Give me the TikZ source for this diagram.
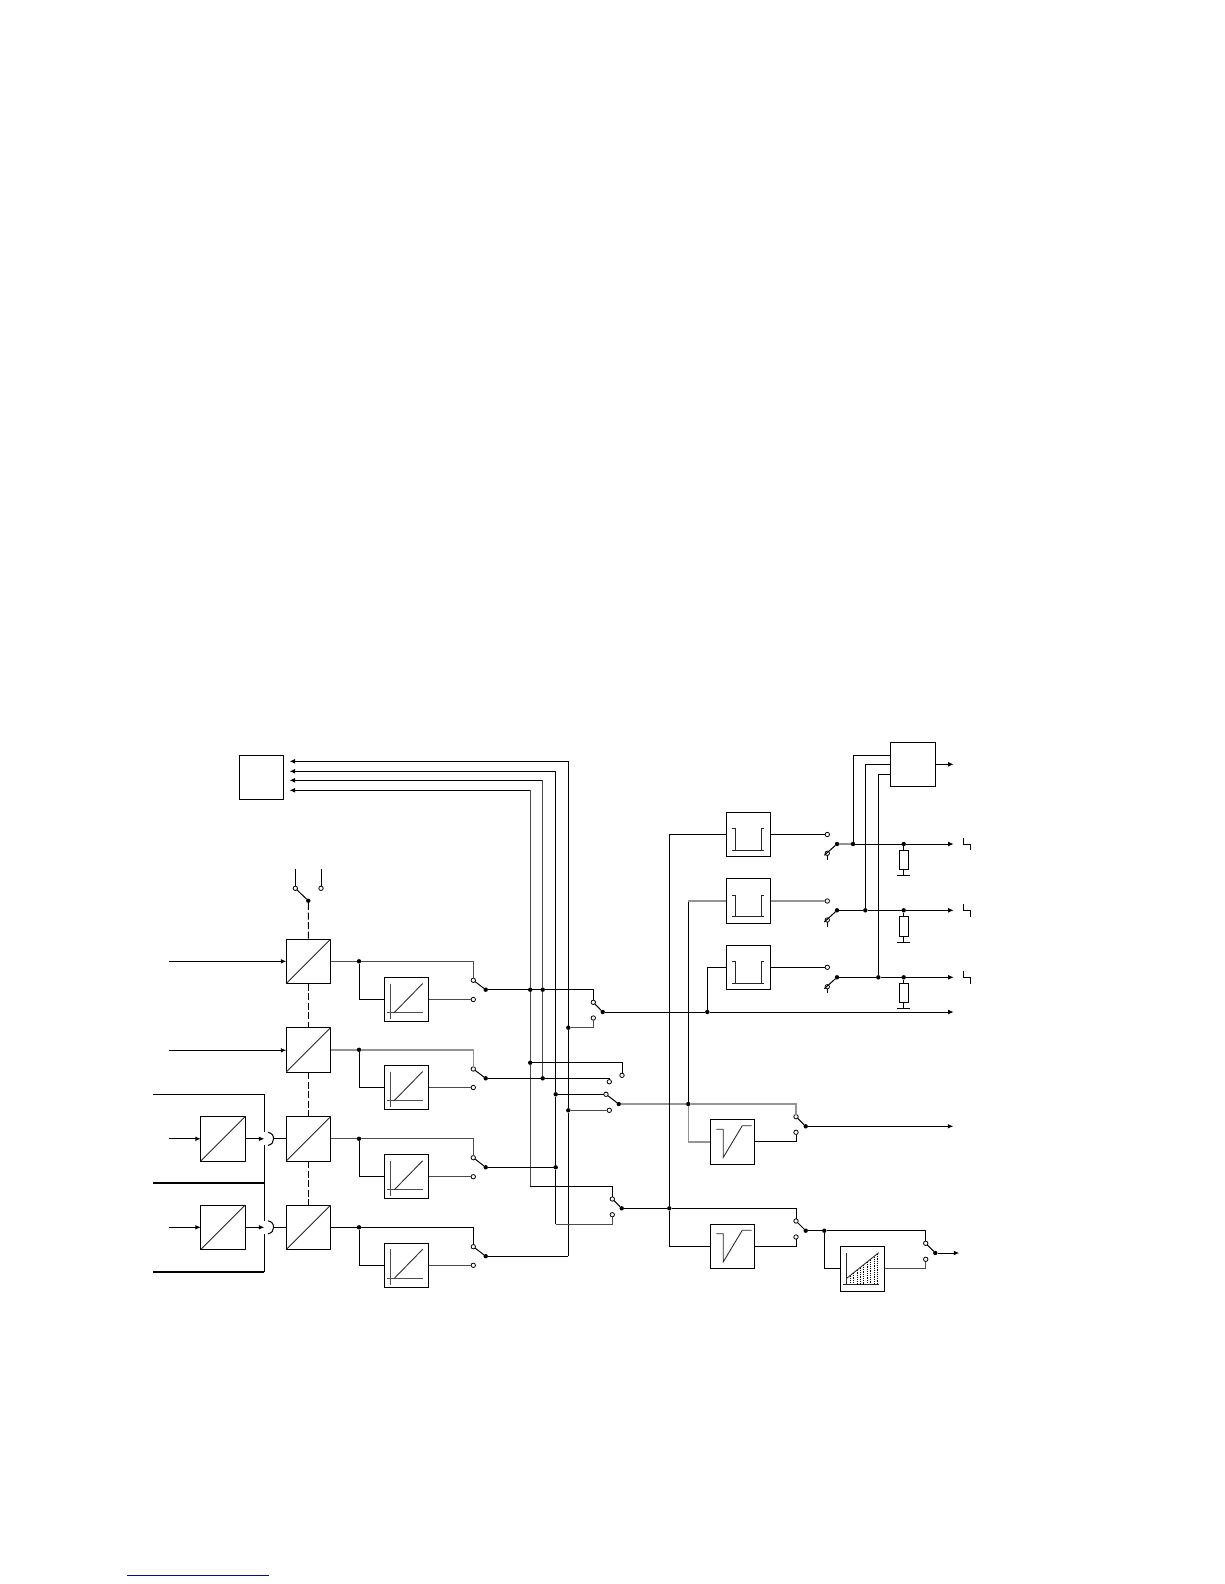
\documentclass[tikz,border=0pt]{standalone}
\usetikzlibrary{arrows.meta,calc}
\definecolor{navyline}{RGB}{10,10,140}
\tikzset{
  wire/.style={line width=1pt,draw=black},
  gw/.style={line width=1.4pt,draw=black!42},
  mw/.style={line width=1.05pt,draw=black!70},
  flow/.style={wire,-{Latex[length=5.5pt,width=4.8pt]}},
  blk/.style={draw=black,line width=1pt,fill=white,minimum width=44.4pt,minimum height=44.4pt,inner sep=0pt,outer sep=0pt},
  jd/.style={circle,fill=black,draw=none,minimum size=4.4pt,inner sep=0pt,outer sep=0pt},
  pole/.style={circle,fill=white,draw=black,line width=0.8pt,minimum size=4.4pt,inner sep=0pt,outer sep=0pt},
  res/.style={draw=black,line width=1pt,fill=white,minimum width=9.4pt,minimum height=19.5pt,inner sep=0pt,outer sep=0pt},
  curve/.style={line width=0.85pt,draw=black!85},
  hatch/.style={line width=0.6pt,draw=black,dash pattern=on 1.2pt off 1pt}
}
\newcommand{\rampbox}[2]{%
  \node[blk] (#1) at (#2) {};
  \draw[mw] (#1.center) ++(-15.8,-16) -- ++(0,35.7);
  \draw[mw] (#1.center) ++(-19.2,13) -- ++(35.4,0);
  \draw[curve] (#1.center) ++(-12.2,13) -- ++(28.4,-29);
}
\newcommand{\filterbox}[2]{%
  \node[blk] (#1) at (#2) {};
  \draw[curve] (#1.center) ++(-16.5,-5.8) -- ++(3.3,0) -- ++(0,21.6);
  \draw[curve] (#1.center) ++(-16.5,15.8) -- ++(32.3,0);
  \draw[curve] (#1.center) ++(12.8,15.8) -- ++(0,-21.6) -- ++(3,0);
}
\newcommand{\limitbox}[2]{%
  \node[blk] (#1) at (#2) {};
  \draw[curve] (#1.center) ++(-16.2,-12.5) -- ++(7,0) -- ++(0,28) -- ++(19,-31.6) -- ++(9.4,0);
}
\newcommand{\adcbox}[2]{%
  \node[blk] (#1) at (#2) {};
  \draw[curve] (#1.south west) -- (#1.north east);
}
\begin{document}
\begin{tikzpicture}[x=1pt,y=-1pt]
\useasboundingbox (0,0) rectangle (1224,1584);

% ---------- top-left block with bus arrows
\node[blk] (ctrl) at (261.3,777.3) {};
\coordinate (tipa) at (289.5,761.3);
\coordinate (tipb) at (289.5,771.3);
\coordinate (tipc) at (289.5,780.3);
\coordinate (tipd) at (289.5,790.3);

% ---------- converters
\adcbox{adca}{308.5,961.3}
\adcbox{adcb}{308.5,1049.8}
\adcbox{adcc}{308.5,1138.8}
\adcbox{adcd}{308.5,1227.3}
\adcbox{inc}{223,1138.8}
\adcbox{ind}{223,1227.3}

% ---------- ramp boxes
\rampbox{rampa}{406.5,999.5}
\rampbox{rampb}{406.5,1087.5}
\rampbox{rampc}{406.5,1176.7}
\rampbox{rampd}{406.5,1265.3}

% ---------- selector switch above the converters
\node[pole] (sela) at (295.3,888.3) {};
\node[pole] (selb) at (321,888.3) {};
\node[jd] (selc) at (308.3,900.7) {};
\coordinate (selat) at (295.3,869);
\coordinate (selbt) at (321,869);
\draw[wire] (selat) -- (sela);
\draw[wire] (selbt) -- (selb);
\draw[wire] (sela) -- (selc);
\draw[wire,dash pattern=on 7pt off 2.6pt] (selc) -- (adca.north);
\draw[wire,dash pattern=on 7pt off 2.6pt] (adca.south) -- (adcb.north);
\draw[wire,dash pattern=on 7pt off 2.6pt] (adcb.south) -- (adcc.north);
\draw[wire,dash pattern=on 7pt off 2.6pt] (adcc.south) -- (adcd.north);

% ---------- inputs
\coordinate (ina) at (169,961.3);
\coordinate (inb) at (169,1050.3);
\coordinate (incs) at (169,1138.8);
\coordinate (inds) at (169,1227.3);
\draw[flow] (ina) -- (ina -| adca.west);
\draw[flow] (inb) -- (inb -| adcb.west);
\draw[flow] (incs) -- (inc.west);
\draw[flow] (inds) -- (ind.west);

% ---------- rails and crossings at left
\coordinate (raila) at (153,1094.3);
\coordinate (railb) at (264.3,1094.3);
\coordinate (gapa) at (264.3,1132);
\coordinate (gapb) at (264.3,1145);
\coordinate (gapc) at (264.3,1221);
\coordinate (gapd) at (264.3,1234);
\coordinate (raile) at (264.3,1272);
\coordinate (railf) at (153,1272);
\coordinate (railg) at (153,1183);
\coordinate (railh) at (264.3,1183);
\draw[wire] (raila) -- (railb) -- (gapa);
\draw[wire] (gapb) -- (gapc);
\draw[wire] (gapd) -- (raile);
\draw[line width=1.7pt] (railf) -- (raile);
\draw[line width=1.7pt] (railg) -- (railh);
\coordinate (tipe) at (264.3,1138.8);
\coordinate (tipf) at (264.3,1227.3);
\draw[flow] (inc.east) -- (tipe);
\draw[flow] (ind.east) -- (tipf);
\coordinate (arca) at (268,1132.3);
\coordinate (arcb) at (268,1145.3);
\coordinate (arcc) at (273.6,1138.8);
\coordinate (arcd) at (268,1220.8);
\coordinate (arce) at (268,1233.8);
\coordinate (arcf) at (273.6,1227.3);
\draw[wire] (arca) .. controls (272,1133) and (273.6,1135.5) .. (arcc) .. controls (273.6,1142) and (272,1144.6) .. (arcb);
\draw[wire] (arcd) .. controls (272,1221.5) and (273.6,1224) .. (arcf) .. controls (273.6,1230.5) and (272,1233) .. (arce);
\draw[wire] (arcc) -- (adcc.west);
\draw[wire] (arcf) -- (adcd.west);

% ---------- first-stage switches
\node[jd] (ja) at (359,961.3) {};
\node[jd] (jb) at (359,1049.8) {};
\node[jd] (jc) at (359,1138.8) {};
\node[jd] (jd) at (359,1227.3) {};
\node[pole] (pa1) at (473.3,980.3) {};
\node[pole] (pa2) at (473.3,999.5) {};
\node[jd] (oa) at (485.7,989.7) {};
\node[pole] (pb1) at (473.3,1069) {};
\node[pole] (pb2) at (473.3,1087.5) {};
\node[jd] (ob) at (485.7,1078.3) {};
\node[pole] (pc1) at (473.3,1157.7) {};
\node[pole] (pc2) at (473.3,1176.7) {};
\node[jd] (oc) at (485.7,1167.3) {};
\node[pole] (pd1) at (473.3,1246.7) {};
\node[pole] (pd2) at (473.3,1265.3) {};
\node[jd] (od) at (485.7,1256.2) {};

\draw[mw] (adca.east) -- (ja);
\draw[mw] (ja) -| (pa1);
\draw[wire] (ja) |- (rampa.west);
\draw[mw] (rampa.east) -- (pa2);
\draw[wire] (pa1) -- (oa);

\draw[gw] (adcb.east) -- (jb);
\draw[gw] (jb) -| (pb1);
\draw[wire] (jb) |- (rampb.west);
\draw[mw] (rampb.east) -- (pb2);
\draw[wire] (pb1) -- (ob);

\draw[mw] (adcc.east) -- (jc);
\draw[mw] (jc) -| (pc1);
\draw[wire] (jc) |- (rampc.west);
\draw[mw] (rampc.east) -- (pc2);
\draw[wire] (pc1) -- (oc);

\draw[wire] (adcd.east) -- (jd);
\draw[wire] (jd) -| (pd1);
\draw[wire] (jd) |- (rampd.west);
\draw[mw] (rampd.east) -- (pd2);
\draw[wire] (pd1) -- (od);

% ---------- bus junctions
\node[jd] (b1a) at (530.2,989.7) {};
\node[jd] (b2a) at (542.7,989.7) {};
\node[jd] (b1b) at (530.2,1062.7) {};
\node[jd] (b2b) at (542.7,1078.3) {};
\node[jd] (b3c) at (555.7,1094.3) {};
\node[jd] (b4c) at (568.3,1110.3) {};
\node[jd] (b3d) at (555.7,1167.3) {};
\node[jd] (b4a) at (568.3,1027.7) {};

% buses
\coordinate (bend1) at (530.2,790.3);
\coordinate (bend2) at (542.7,780.3);
\coordinate (bend3) at (555.7,771.3);
\coordinate (bend4) at (568.3,761.3);
\coordinate (bot1) at (530.2,1186.7);
\coordinate (bot3) at (555.7,1224.3);
\coordinate (bot4) at (568.3,1256.2);
\draw[flow] (bend4) -- (tipa);
\draw[flow] (bend3) -- (tipb);
\draw[flow] (bend2) -- (tipc);
\draw[flow] (bend1) -- (tipd);
\draw[mw] (bend1) -- (b1a) -- (b1b) -- (bot1);
\draw[mw] (bend2) -- (b2a) -- (b2b);
\draw[wire] (bend3) -- (b3c) -- (b3d) -- (bot3);
\draw[wire] (bend4) -- (b4a) -- (b4c) -- (bot4);
\draw[wire] (oa) -- (b1a) -- (b2a);
\draw[wire] (ob) -- (b2b);
\draw[wire] (oc) -- (b3d);
\draw[wire] (od) -- (bot4);

% ---------- second-stage switch A
\node[pole] (sa1) at (593.3,1002.3) {};
\node[pole] (sa2) at (593.3,1018) {};
\node[jd] (sao) at (602.7,1012) {};
\draw[wire] (b2a) -| (sa1);
\draw[mw] (b4a) -| (sa2);
\draw[wire] (sa1) -- (sao);

% ---------- second-stage switch B
\node[pole] (sbx) at (622,1075.3) {};
\node[pole] (sb1) at (609.3,1081.7) {};
\node[pole] (sb2) at (606,1094.3) {};
\node[pole] (sb3) at (609.3,1110.3) {};
\node[jd] (sbo) at (618.7,1104) {};
\draw[wire] (b1b) -| (sbx);
\draw[wire] (b2b) -| (sb1);
\draw[wire] (b3c) -- (sb2);
\draw[mw] (b4c) -- (sb3);
\draw[wire] (sb2) -- (sbo);

% ---------- second-stage switch C
\node[pole] (sc1) at (612.3,1199) {};
\node[pole] (sc2) at (612.3,1214.7) {};
\node[jd] (sco) at (621.7,1208.3) {};
\draw[wire] (bot1) -| (sc1);
\draw[mw] (bot3) -| (sc2);
\draw[wire] (sc1) -- (sco);

% ---------- filters
\filterbox{fa}{748.5,834.5}
\filterbox{fb}{748.5,901}
\filterbox{fc}{748.5,967.3}
\limitbox{la}{732.5,1141.8}
\limitbox{lb}{732.5,1246.3}

\node[jd] (kc) at (707.3,1012) {};
\node[jd] (kb) at (688.3,1104) {};
\node[jd] (ka) at (669.3,1208.3) {};

\coordinate (outa) at (953.7,1012);
\draw[flow] (sao) -- (kc) -- (outa);
\draw[wire] (kc) |- (fc.west);
\draw[gw] (sbo) -- (kb);
\draw[wire] (sco) -- (ka);
\draw[wire] (kb |- fb.west) -- (kb);
\draw[gw] (fb.west) -- (kb |- fb.west);
\draw[gw] (kb) |- (la.west);
\draw[wire] (ka) |- (fa.west);
\draw[wire] (ka) |- (lb.west);

% ---------- third-stage switches (limiters)
\node[pole] (ta1) at (796,1116.7) {};
\node[pole] (ta2) at (796,1132.3) {};
\node[jd] (tao) at (805.7,1126.3) {};
\node[pole] (tb1) at (796,1221) {};
\node[pole] (tb2) at (796,1237) {};
\node[jd] (tbo) at (805.7,1230.7) {};
\draw[gw] (kb) -| (ta1);
\draw[wire] (la.east) -| (ta2);
\draw[wire] (ka) -| (tb1);
\draw[wire] (lb.east) -| (tb2);
\draw[wire] (ta1) -- (tao);
\draw[wire] (tb1) -- (tbo);
\coordinate (outb) at (953.3,1126.3);
\draw[flow] (tao) -- (outb);

% ---------- integrator
\node[blk] (intg) at (862.5,1268.8) {};
\foreach \xx in {850,853.4,...,878} {
  \pgfmathsetmacro{\yy}{1278.3-(\xx-846.7)*25.6/32}
  \draw[hatch] (\xx,\yy) -- (\xx,1284.3);
}
\draw[curve] (846.7,1252.7) -- (846.7,1284.3);
\draw[curve] (843.3,1284.3) -- (878.7,1284.3);
\draw[curve] (846.7,1278.3) -- (878.7,1252.7);
\node[jd] (ki) at (824.3,1230.7) {};
\node[pole] (ua1) at (925.7,1243.3) {};
\node[pole] (ua2) at (925.7,1259.3) {};
\node[jd] (uao) at (935.3,1253) {};
\draw[wire] (tbo) -- (ki);
\draw[wire] (ki) -| (ua1);
\draw[wire] (ki) |- (intg.west);
\draw[mw] (intg.east) -| (ua2);
\draw[wire] (ua1) -- (uao);
\coordinate (outc) at (959.3,1253);
\draw[flow] (uao) -- (outc);

% ---------- output contacts
\node[pole] (ra) at (827.3,834.5) {};
\node[pole] (rb) at (827.3,901) {};
\node[pole] (rc) at (827.3,967.3) {};
\draw[wire] (fa.east) -- (ra);
\draw[gw] (fb.east) -- (rb);
\draw[wire] (fc.east) -- (rc);

\node[pole] (qa) at (827.3,853.3) {};
\node[pole] (qb) at (827.3,920) {};
\node[pole] (qc) at (827.3,986.7) {};
\node[jd] (da) at (837,844) {};
\node[jd] (db) at (837,910.3) {};
\node[jd] (dc) at (837,977.3) {};
\foreach \d/\q in {da/qa,db/qb,dc/qc} {
  \draw[wire] (\d) -- ($(\q)+(-3,2)$);
  \draw[wire] (\q) -- ($(\q)+(0,6.5)$);
}

\node[jd] (ea) at (853,844) {};
\node[jd] (eb) at (865.3,910.3) {};
\node[jd] (ec) at (878.3,977.3) {};
\node[jd] (ha) at (903.7,844) {};
\node[jd] (hb) at (903.7,910.3) {};
\node[jd] (hc) at (903.7,977.3) {};
\coordinate (outd) at (953.7,844);
\coordinate (oute) at (953.7,910.3);
\coordinate (outf) at (953.7,977.3);
\draw[gw] (da) -- (ea);
\draw[flow] (ea) -- (ha) -- (outd);
\draw[flow] (db) -- (eb) -- (hb) -- (oute);
\draw[flow] (dc) -- (ec) -- (hc) -- (outf);

% ---------- resistors and grounds
\node[res] (rsa) at (903.7,859.8) {};
\node[res,minimum height=20.4pt] (rsb) at (903.7,926.5) {};
\node[res] (rsc) at (903.7,993) {};
\coordinate (ga) at (903.7,875.3);
\coordinate (gb) at (903.7,942.3);
\coordinate (gc) at (903.7,1008.3);
\draw[wire] (ha) -- (rsa.north);
\draw[wire] (hb) -- (rsb.north);
\draw[wire] (hc) -- (rsc.north);
\draw[wire] (rsa.south) -- (ga);
\draw[wire] (rsb.south) -- (gb);
\draw[wire] (rsc.south) -- (gc);
\draw[wire] ($(ga)+(-6.5,0)$) -- ($(ga)+(6.5,0)$);
\draw[wire] ($(gb)+(-6.5,0)$) -- ($(gb)+(6.5,0)$);
\draw[wire] ($(gc)+(-6.5,0)$) -- ($(gc)+(6.5,0)$);

% ---------- step marks
\draw[wire] (963.3,837.7) -- (963.3,844) -- (970.3,844) -- (970.3,850.3);
\draw[wire] (963.3,904) -- (963.3,910.3) -- (970.3,910.3) -- (970.3,917);
\draw[wire] (963.3,970.7) -- (963.3,977.3) -- (970.3,977.3) -- (970.3,983.7);

% ---------- combining block
\node[blk,minimum width=45.4pt] (comb) at (913,764.3) {};
\coordinate (cin1) at (comb.west |- 0,755.3);
\coordinate (cin2) at (comb.west |- 0,764.3);
\coordinate (cin3) at (comb.west |- 0,774.3);
\coordinate (cout) at (953.7,764.3);
\draw[wire] (ea) |- (cin1);
\draw[wire] (eb) |- (cin2);
\draw[wire] (ec) |- (cin3);
\draw[flow] (comb.east) -- (cout);

% ---------- blue rule at foot
\draw[navyline,line width=1pt] (127,1575) -- (269,1575);
\end{tikzpicture}
\end{document}
